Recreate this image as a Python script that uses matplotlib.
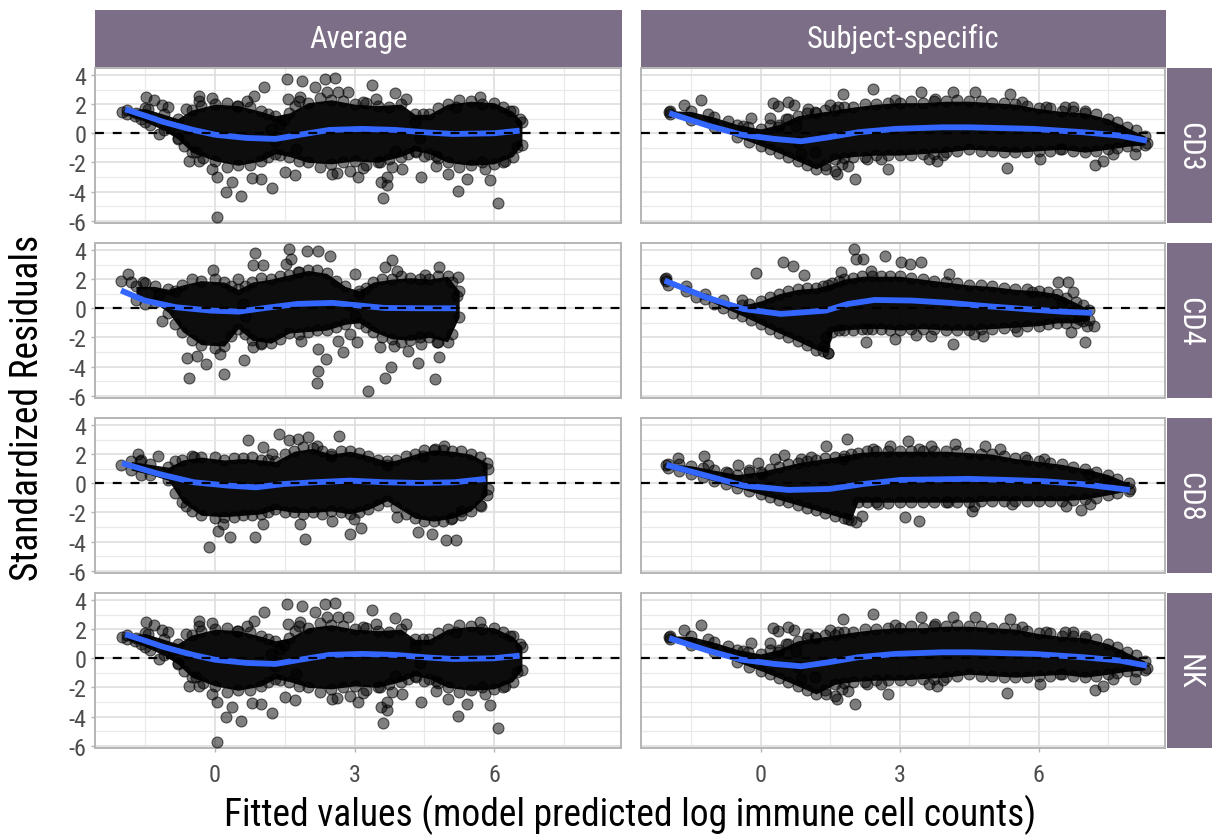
import numpy as np
import matplotlib.pyplot as plt

plt.rcParams['font.family'] = ['Roboto Condensed', 'Liberation Sans Narrow', 'DejaVu Sans']
plt.rcParams['axes.unicode_minus'] = False

# ---------------- data ----------------
columns = ['Average', 'Subject-specific']
cells = ['CD3', 'CD4', 'CD8', 'NK']

# dense core of each cloud: x, upper edge, lower edge
avg_cd3_core_x = [-1.9, -1.5, -1.1, -0.8, -0.5, 0.0, 0.5, 1.0, 1.3, 1.6, 2.0, 2.5, 3.0, 3.5, 4.0, 4.3, 4.6, 5.0, 5.5, 6.0, 6.4, 6.6]
avg_cd3_core_hi = [1.6, 1.7, 1.3, 1.0, 1.6, 2.0, 1.9, 1.5, 1.2, 1.4, 2.1, 2.3, 2.0, 1.9, 2.0, 1.3, 1.3, 2.0, 2.2, 2.1, 1.5, 0.8]
avg_cd3_core_lo = [1.3, 0.8, 0.2, -0.4, -1.3, -1.9, -2.2, -1.9, -1.4, -1.6, -2.0, -2.1, -1.9, -2.0, -1.6, -1.2, -1.4, -2.0, -2.2, -2.1, -1.6, -0.8]
avg_cd3_points = [(-1.99, 1.46), (-1.73, 1.2), (-1.48, 2.47), (-1.31, 2.31), (-1.45, 1.67), (-1.13, 1.95),
                  (-1.02, 1.8), (-1.2, -0.05), (-0.34, 2.58), (-0.34, 2.24), (-0.63, 1.67), (-0.66, -0.85),
                  (-0.56, -1.88), (-0.41, -1.31), (-0.34, -1.88), (-0.06, 2.43), (-0.06, -2.45), (0.05, -3.0),
                  (0.23, -4.0), (0.36, -3.33), (0.55, -4.29), (0.05, -5.77), (0.69, 2.24), (0.84, 2.54),
                  (1.06, 3.16), (0.47, 1.87), (0.98, -3.14), (1.23, -3.78), (1.55, 3.73), (1.87, 3.57),
                  (1.58, 2.36), (1.83, 2.47), (1.72, 1.9), (2.16, 3.16), (2.37, 3.73), (2.58, 3.8),
                  (2.41, 2.82), (2.65, 2.82), (2.87, 2.82), (3.37, 3.32), (3.19, 2.13), (3.47, 2.36),
                  (1.51, -2.64), (1.72, -2.87), (2.51, -2.8), (2.91, -2.57), (3.08, -3.02), (3.19, -2.4),
                  (3.58, -3.37), (3.69, -3.02), (3.62, -4.47), (3.55, -2.0), (3.8, -2.34), (4.11, 2.36),
                  (4.47, 1.33), (4.32, -1.26), (4.43, -3.03), (4.76, -2.22), (4.76, -1.54), (4.5, -1.54),
                  (4.14, -1.42), (4.03, -2.45), (5.01, -2.8), (5.23, -3.94), (5.41, -3.14), (6.09, -4.79),
                  (5.91, -3.21), (6.24, -1.93), (5.8, -2.45), (6.49, -0.96), (6.56, 0.99), (5.7, 2.48),
                  (5.19, 1.79), (6.35, 1.56), (3.86, 2.73), (3.87, -1.2), (1.75, -1.09), (2.63, -2.71),
                  (1.39, 0.65), (1.48, 0.88), (0.79, -3.1), (3.7, -3.52), (1.2, 0.3), (1.3, -0.5),
                  (1.4, -1.5), (4.3, 0.8), (4.4, -0.3), (-0.9, 0.6), (-0.8, -0.3), (-1.6, 1.0),
                  (-1.4, 0.6), (-1.7, 1.4)]
avg_cd3_edge = [(-0.3, 1.9), (0.25, 2.1), (0.75, 1.8), (1.15, 1.3), (1.8, 2.2), (2.25, 2.4), (2.75, 2.2),
                (3.25, 2.1), (3.75, 1.8), (4.8, 1.7), (5.25, 2.3), (5.75, 2.0), (6.2, 1.8),
                (-0.25, -1.7), (0.25, -2.3), (0.75, -2.2), (1.15, -1.6), (1.8, -1.9), (2.25, -2.3),
                (2.75, -2.0), (3.25, -2.2), (3.75, -1.8), (4.8, -1.7), (5.25, -2.3), (5.75, -2.0), (6.2, -2.0)]
avg_cd3_fit_x = [-1.93, -1.5, -1.09, -0.47, 0.0, 0.68, 1.3, 1.92, 2.46, 3.16, 3.87, 4.58, 5.12, 6.0, 6.55]
avg_cd3_fit_y = [1.65, 1.2, 0.76, 0.23, -0.1, -0.32, -0.39, -0.05, 0.23, 0.3, 0.23, 0.05, -0.05, 0.0, 0.18]

avg_cd4_core_x = [-1.7, -1.3, -1.0, -0.7, -0.3, 0.2, 0.5, 0.8, 1.2, 1.6, 2.0, 2.4, 2.8, 3.1, 3.4, 3.8, 4.2, 4.6, 5.0, 5.25]
avg_cd4_core_hi = [1.5, 1.5, 1.3, 1.6, 1.9, 1.8, 1.3, 1.8, 2.0, 2.3, 2.6, 2.4, 1.5, 1.2, 1.8, 2.0, 2.1, 2.0, 2.2, 1.2]
avg_cd4_core_lo = [0.6, 0.4, -0.3, -1.6, -2.5, -2.6, -1.4, -2.2, -2.4, -1.7, -1.6, -1.5, -1.1, -1.0, -1.6, -2.1, -2.2, -2.0, -2.3, -0.6]
avg_cd4_points = [(-2.03, 1.9), (-1.87, 2.36), (-1.81, 1.79), (-1.55, 1.83), (-1.14, -0.85), (-0.61, -3.44),
                  (-0.56, -4.79), (-0.39, -3.26), (-0.2, -3.83), (-0.05, 2.66), (0.1, -3.14), (0.19, -4.52),
                  (0.49, 2.02), (0.62, -3.53), (0.87, 3.81), (0.81, 2.98), (1.03, 2.94), (0.81, -2.68),
                  (0.99, -2.45), (1.52, 3.05), (1.59, 4.04), (1.63, 3.39), (1.97, 3.9), (2.21, 3.9),
                  (2.48, 3.62), (1.78, 2.48), (1.85, -2.22), (2.21, -2.8), (2.39, -3.49), (2.21, -4.33),
                  (2.19, -5.14), (2.64, -2.22), (2.75, -3.03), (2.9, -1.77), (3.01, 2.36), (3.05, -2.34),
                  (3.29, -5.71), (3.54, -2.68), (3.65, 2.82), (3.8, 3.28), (3.91, 2.59), (3.78, -4.06),
                  (3.66, -4.79), (3.84, -2.57), (4.16, -2.91), (4.36, -3.76), (4.51, 2.25), (4.73, -4.86),
                  (4.81, -3.37), (4.81, 2.82), (5.22, 2.13), (5.21, 0.87), (4.77, -2.34), (4.44, -2.45),
                  (0.6, 0.3), (0.65, -0.5), (2.9, 0.2), (3.0, -0.5), (3.1, 1.0), (-1.2, 0.9)]
avg_cd4_edge = [(-1.5, 1.7), (-0.85, 1.2), (-0.5, 2.0), (0.0, 2.0), (0.35, 1.5), (0.65, 1.5), (1.0, 2.1),
                (1.4, 2.2), (1.8, 2.5), (2.2, 2.6), (2.6, 1.9), (3.25, 1.4), (3.6, 2.0), (4.0, 2.2),
                (4.4, 2.0), (4.8, 2.2), (5.1, 1.8),
                (-1.5, 0.3), (-0.85, -1.1), (-0.5, -2.2), (0.0, -2.7), (0.35, -1.9), (0.65, -1.8),
                (1.0, -2.4), (1.4, -2.1), (1.8, -1.8), (2.2, -1.5), (2.6, -1.3), (3.25, -1.3),
                (3.6, -2.0), (4.0, -2.3), (4.4, -2.0), (4.8, -2.3), (5.1, -1.8)]
avg_cd4_fit_x = [-2.02, -1.51, -0.84, -0.09, 0.51, 1.03, 1.78, 2.53, 3.13, 3.65, 4.4, 5.18]
avg_cd4_fit_y = [1.22, 0.53, 0.07, -0.16, -0.23, 0.0, 0.3, 0.37, 0.18, 0.02, 0.0, 0.0]

avg_cd8_core_x = [-1.8, -1.4, -1.0, -0.7, -0.3, 0.2, 0.6, 1.0, 1.3, 1.7, 2.1, 2.5, 2.9, 3.3, 3.7, 3.9, 4.3, 4.7, 5.1, 5.5, 5.85]
avg_cd8_core_hi = [1.5, 1.3, 1.1, 1.6, 1.8, 1.6, 1.7, 1.6, 1.5, 2.2, 2.4, 2.0, 2.2, 1.9, 1.5, 1.6, 2.0, 2.3, 2.2, 2.0, 1.4]
avg_cd8_core_lo = [0.9, 0.6, 0.2, -1.3, -2.2, -2.3, -2.2, -2.1, -1.8, -2.0, -2.0, -1.9, -2.1, -1.8, -1.2, -1.6, -2.4, -2.6, -2.4, -1.9, -0.8]
avg_cd8_points = [(-2.02, 1.28), (-1.66, 2.02), (-1.62, 1.56), (-1.23, 1.9), (-0.63, -1.54), (-0.46, 1.79),
                  (-0.13, -4.36), (0.06, -3.26), (0.17, -2.8), (0.32, -3.67), (0.7, 3.0), (0.85, -3.67),
                  (1.03, 2.48), (1.03, -2.8), (1.22, 2.02), (1.37, 3.39), (1.59, 2.94), (1.78, 3.05),
                  (2.0, 3.17), (1.82, -2.8), (1.93, -3.83), (2.19, 2.59), (2.49, 1.9), (2.51, -2.57),
                  (2.66, 3.26), (2.9, -3.49), (3.13, -3.07), (2.98, -2.45), (3.69, 1.22), (3.91, -2.34),
                  (4.36, -3.37), (4.66, -3.49), (4.96, -3.88), (5.18, -3.88), (4.47, 1.9), (4.73, 2.36),
                  (4.92, 2.59), (5.71, -1.54), (5.86, -0.39), (5.86, 0.99), (5.3, -1.88), (5.07, -2.45)]
avg_cd8_edge = [(-1.6, 1.6), (-0.85, 1.5), (-0.5, 1.9), (0.0, 1.8), (0.4, 1.7), (0.8, 1.8), (1.15, 1.6),
                (1.5, 2.0), (1.9, 2.5), (2.3, 2.2), (2.7, 2.2), (3.1, 2.1), (3.5, 1.6), (4.1, 1.9),
                (4.5, 2.3), (4.9, 2.3), (5.3, 2.2), (5.7, 1.8),
                (-1.6, 0.6), (-0.85, -0.7), (-0.5, -1.9), (0.0, -2.4), (0.4, -2.3), (0.8, -2.2),
                (1.15, -2.0), (1.5, -2.0), (1.9, -2.1), (2.3, -2.1), (2.7, -2.0), (3.1, -2.0),
                (3.5, -1.5), (4.1, -2.1), (4.5, -2.6), (4.9, -2.6), (5.3, -2.2), (5.7, -1.5)]
avg_cd8_fit_x = [-2.0, -1.21, -0.46, 0.28, 0.88, 1.48, 2.15, 2.9, 3.65, 4.4, 5.15, 5.82]
avg_cd8_fit_y = [1.38, 0.64, 0.07, -0.16, -0.28, -0.05, 0.07, 0.18, 0.07, 0.02, 0.07, 0.3]

sub_cd3_core_x = [-1.95, -1.5, -1.0, -0.5, 0.0, 0.4, 0.8, 1.2, 1.6, 2.0, 2.5, 3.0, 3.5, 4.0, 4.5, 5.0, 5.5, 6.0, 6.5, 7.0, 7.5, 7.9, 8.3]
sub_cd3_core_hi = [1.55, 1.5, 1.1, 0.6, 0.3, 0.6, 1.2, 1.4, 1.6, 1.8, 2.0, 2.1, 2.1, 2.2, 2.2, 2.1, 2.0, 1.7, 1.5, 1.4, 1.0, 0.4, -0.2]
sub_cd3_core_lo = [1.3, 0.9, 0.4, -0.25, -0.85, -1.35, -1.9, -2.45, -1.8, -1.6, -1.5, -1.5, -1.4, -1.3, -1.1, -1.2, -1.3, -1.2, -1.1, -1.3, -1.1, -0.9, -0.8]
sub_cd3_points = [(-1.97, 1.45), (-1.65, 1.91), (-1.29, 2.3), (-1.14, 1.33), (-0.71, 0.83), (-0.38, 0.53),
                  (-0.2, 1.06), (-0.27, 0.41), (0.2, 1.06), (0.27, 2.07), (0.38, 1.84), (0.59, 2.14),
                  (0.72, 1.91), (0.56, 0.99), (0.38, 0.41), (0.77, 0.53), (1.03, 1.68), (1.17, 1.45),
                  (1.5, 1.91), (1.79, 2.67), (1.68, 1.79), (1.75, -2.11), (1.89, -2.23), (2.04, -3.15),
                  (2.29, -1.77), (2.6, -1.77), (2.76, -2.46), (2.42, 3.06), (3.47, 2.83), (2.91, 2.25),
                  (1.61, -2.57), (1.64, -2.8), (1.42, -2.46), (0.81, -0.62), (0.88, -1.43), (1.17, -1.31),
                  (3.63, -1.77), (3.81, -1.89), (3.77, 2.37), (4.15, 2.83), (4.62, 2.83), (5.38, 2.67),
                  (5.65, 2.14), (3.94, -1.47), (5.31, -2.39), (6.04, -1.77), (6.46, -1.08), (6.75, 1.79),
                  (7.0, 1.56), (7.22, -2.16), (7.4, -1.89), (7.61, -1.43), (8.08, -1.43), (8.34, -0.69),
                  (7.76, 0.23), (6.57, 1.79), (6.17, 1.79)]
sub_cd3_edge = [(0.2, 0.6), (0.6, 1.0), (1.0, 1.4), (1.4, 1.6), (1.8, 1.8), (2.25, 2.0), (2.75, 2.1),
                (3.25, 2.2), (3.75, 2.2), (4.25, 2.3), (4.75, 2.2), (5.25, 2.1), (5.75, 1.9), (6.25, 1.7),
                (6.75, 1.5), (7.25, 1.3), (7.7, 0.8), (8.1, 0.2),
                (-0.25, -0.6), (0.2, -1.1), (0.6, -1.6), (1.0, -2.2), (1.4, -2.2), (1.8, -1.7),
                (2.25, -1.6), (2.75, -1.5), (3.25, -1.5), (3.75, -1.4), (4.25, -1.2), (4.75, -1.2),
                (5.25, -1.3), (5.75, -1.3), (6.25, -1.2), (6.75, -1.2), (7.25, -1.2), (7.7, -1.0), (8.1, -0.9)]
sub_cd3_fit_x = [-1.97, -1.14, -0.42, 0.3, 0.88, 1.46, 2.11, 2.91, 3.92, 4.5, 5.88, 6.97, 7.76, 8.34]
sub_cd3_fit_y = [1.38, 0.53, -0.09, -0.39, -0.55, -0.28, 0.07, 0.3, 0.41, 0.41, 0.3, 0.07, -0.16, -0.51]

sub_cd4_core_x = [-2.05, -1.6, -1.2, -0.8, -0.4, 0.0, 0.4, 0.8, 1.2, 1.45, 1.55, 1.8, 2.2, 2.6, 3.0, 3.5, 4.0, 4.5, 5.0, 5.5, 6.0, 6.4, 6.8, 7.1]
sub_cd4_core_hi = [2.05, 1.5, 1.0, 0.55, 0.2, 0.5, 1.0, 1.3, 1.4, 1.6, 1.7, 2.0, 2.2, 2.2, 2.2, 2.0, 1.8, 1.6, 1.5, 1.3, 1.2, 1.0, 0.4, -0.1]
sub_cd4_core_lo = [1.85, 1.2, 0.65, 0.05, -0.5, -1.1, -1.7, -2.25, -2.85, -3.05, -1.6, -1.5, -1.4, -1.4, -1.5, -1.4, -1.5, -1.5, -1.4, -1.3, -1.2, -1.0, -1.0, -0.8]
sub_cd4_points = [(-2.07, 2.02), (-0.09, 2.43), (0.48, 3.17), (0.7, 2.89), (-0.41, 0.6), (-0.25, 0.3),
                  (2.02, 4.04), (2.06, 3.39), (2.22, 3.39), (2.68, 3.62), (2.38, 2.59), (3.03, 3.17),
                  (3.23, 3.05), (3.47, 3.21), (1.73, 2.48), (0.94, 2.25), (4.06, 2.36), (6.43, 1.83),
                  (6.63, 1.79), (6.74, 1.1), (6.51, 0.46), (6.87, -0.73), (7.04, -1.19), (7.2, -1.19),
                  (7.01, -2.34), (6.71, -1.61), (4.16, -2.45), (4.61, -1.77), (4.8, -1.88), (2.91, -2.11),
                  (2.28, -2.29), (2.3, -1.42), (3.35, -1.83), (3.68, -1.88), (1.45, -3.07), (1.37, -2.57),
                  (1.41, -2.0), (5.54, -1.54), (5.86, 1.1)]
sub_cd4_edge = [(0.2, 0.8), (0.6, 1.2), (1.0, 1.4), (1.35, 1.5), (1.7, 1.9), (2.0, 2.1), (2.4, 2.2),
                (2.8, 2.2), (3.25, 2.1), (3.75, 1.9), (4.25, 1.7), (4.75, 1.6), (5.25, 1.4), (5.75, 1.3),
                (6.2, 1.1), (6.6, 0.7), (6.95, 0.2),
                (-2.0, 1.6), (-1.4, 0.8), (-1.0, 0.3), (-0.6, -0.3), (-0.2, -0.8), (0.2, -1.4), (0.6, -2.0),
                (1.0, -2.55), (1.35, -2.9), (1.7, -1.5), (2.0, -1.5), (2.4, -1.4), (2.8, -1.5),
                (3.25, -1.45), (3.75, -1.45), (4.25, -1.5), (4.75, -1.45), (5.25, -1.35), (5.75, -1.25),
                (6.2, -1.1), (6.6, -1.0), (6.95, -0.9)]
sub_cd4_fit_x = [-2.07, -1.18, -0.37, 0.44, 1.41, 1.89, 2.46, 3.27, 4.08, 4.89, 5.7, 6.51, 7.16]
sub_cd4_fit_y = [1.9, 0.76, -0.05, -0.39, -0.16, 0.3, 0.57, 0.53, 0.37, 0.14, -0.05, -0.23, -0.32]

sub_cd8_core_x = [-2.0, -1.5, -1.0, -0.5, 0.0, 0.4, 0.8, 1.2, 1.6, 1.95, 2.1, 2.5, 3.0, 3.5, 4.0, 4.5, 5.0, 5.5, 6.0, 6.5, 7.0, 7.5, 7.95]
sub_cd8_core_hi = [1.35, 1.2, 0.9, 0.6, 0.8, 1.1, 1.4, 1.6, 1.8, 2.0, 2.1, 2.2, 2.2, 2.2, 2.2, 2.1, 2.0, 1.7, 1.5, 1.3, 1.0, 0.6, 0.0]
sub_cd8_core_lo = [1.07, 0.62, 0.16, -0.3, -0.76, -1.12, -1.49, -1.86, -2.22, -2.55, -1.3, -1.3, -1.3, -1.3, -1.3, -1.3, -1.2, -1.2, -1.2, -1.2, -1.1, -0.8, -0.5]
sub_cd8_points = [(-2.03, 1.26), (-1.79, 1.74), (-1.22, 1.9), (-1.14, 1.22), (-0.71, 0.71), (-0.49, 1.22),
                  (-0.25, 0.92), (-0.05, 1.38), (0.32, 1.67), (0.5, 1.97), (0.03, 0.64), (0.88, 1.67),
                  (1.08, 1.79), (1.41, 2.59), (1.87, 3.05), (1.77, 1.67), (2.42, 2.36), (2.79, 2.59),
                  (3.19, 2.89), (3.43, 2.36), (3.68, 2.59), (4.2, 2.71), (4.85, 2.59), (5.17, 2.36),
                  (2.18, -2.22), (2.06, -2.68), (1.89, -2.45), (3.11, -2.34), (3.42, -2.61), (4.57, -1.88),
                  (4.61, -1.54), (5.42, -1.42), (6.91, -1.83), (6.59, -1.54), (7.12, -1.42), (7.97, -0.39),
                  (7.44, 0.18), (7.08, 0.64), (6.11, 1.67), (5.7, 1.79), (2.54, -1.42), (4.04, -1.31)]
sub_cd8_edge = [(-1.75, 1.3), (-1.25, 1.05), (-0.75, 0.75), (-0.25, 0.8), (0.2, 1.0), (0.6, 1.3), (1.0, 1.5),
                (1.4, 1.7), (1.8, 1.9), (2.3, 2.2), (2.75, 2.2), (3.25, 2.2), (3.75, 2.2), (4.25, 2.2),
                (4.75, 2.0), (5.25, 1.9), (5.75, 1.6), (6.25, 1.4), (6.75, 1.1), (7.25, 0.8), (7.7, 0.3),
                (-1.75, 0.85), (-1.25, 0.4), (-0.75, -0.05), (-0.25, -0.55), (0.2, -0.95), (0.6, -1.3),
                (1.0, -1.7), (1.4, -2.05), (1.8, -2.4), (2.3, -1.3), (2.75, -1.35), (3.25, -1.3),
                (3.75, -1.3), (4.25, -1.3), (4.75, -1.25), (5.25, -1.2), (5.75, -1.2), (6.25, -1.2),
                (6.75, -1.15), (7.25, -1.0), (7.7, -0.7)]
sub_cd8_fit_x = [-2.03, -1.18, -0.37, 0.6, 1.49, 2.22, 3.03, 4.49, 5.3, 6.11, 6.91, 7.97]
sub_cd8_fit_y = [1.26, 0.53, -0.16, -0.46, -0.39, -0.05, 0.23, 0.3, 0.23, 0.14, -0.05, -0.46]

# the NK panels read the same as the CD3 panels
avg_nk_core_x, avg_nk_core_hi, avg_nk_core_lo = list(avg_cd3_core_x), list(avg_cd3_core_hi), list(avg_cd3_core_lo)
avg_nk_points, avg_nk_edge = list(avg_cd3_points), list(avg_cd3_edge)
avg_nk_fit_x, avg_nk_fit_y = list(avg_cd3_fit_x), list(avg_cd3_fit_y)
sub_nk_core_x, sub_nk_core_hi, sub_nk_core_lo = list(sub_cd3_core_x), list(sub_cd3_core_hi), list(sub_cd3_core_lo)
sub_nk_points, sub_nk_edge = list(sub_cd3_points), list(sub_cd3_edge)
sub_nk_fit_x, sub_nk_fit_y = list(sub_cd3_fit_x), list(sub_cd3_fit_y)

panels = {
    ('Average', 'CD3'): (avg_cd3_core_x, avg_cd3_core_hi, avg_cd3_core_lo, avg_cd3_points + avg_cd3_edge, avg_cd3_fit_x, avg_cd3_fit_y),
    ('Average', 'CD4'): (avg_cd4_core_x, avg_cd4_core_hi, avg_cd4_core_lo, avg_cd4_points + avg_cd4_edge, avg_cd4_fit_x, avg_cd4_fit_y),
    ('Average', 'CD8'): (avg_cd8_core_x, avg_cd8_core_hi, avg_cd8_core_lo, avg_cd8_points + avg_cd8_edge, avg_cd8_fit_x, avg_cd8_fit_y),
    ('Average', 'NK'): (avg_nk_core_x, avg_nk_core_hi, avg_nk_core_lo, avg_nk_points + avg_nk_edge, avg_nk_fit_x, avg_nk_fit_y),
    ('Subject-specific', 'CD3'): (sub_cd3_core_x, sub_cd3_core_hi, sub_cd3_core_lo, sub_cd3_points + sub_cd3_edge, sub_cd3_fit_x, sub_cd3_fit_y),
    ('Subject-specific', 'CD4'): (sub_cd4_core_x, sub_cd4_core_hi, sub_cd4_core_lo, sub_cd4_points + sub_cd4_edge, sub_cd4_fit_x, sub_cd4_fit_y),
    ('Subject-specific', 'CD8'): (sub_cd8_core_x, sub_cd8_core_hi, sub_cd8_core_lo, sub_cd8_points + sub_cd8_edge, sub_cd8_fit_x, sub_cd8_fit_y),
    ('Subject-specific', 'NK'): (sub_nk_core_x, sub_nk_core_hi, sub_nk_core_lo, sub_nk_points + sub_nk_edge, sub_nk_fit_x, sub_nk_fit_y),
}

# ---------------- layout (pixels) ----------------
W, H = 1216, 837
fig = plt.figure(figsize=(W / 100, H / 100), dpi=100)


def box(x0, y0, w, h):
    return [x0 / W, 1 - (y0 + h) / H, w / W, h / H]


col_x = [95, 641]
col_w = [526, 524]
row_y = [69, 244, 419, 594]
row_h = 155
strip_col = '#7d6e87'
frame_col = '#b5b5b5'
pt_face = (0, 0, 0, 0.5)
pt_edge = (0, 0, 0, 0.6)

for c, col in enumerate(columns):
    for r, cell in enumerate(cells):
        ax = fig.add_axes(box(col_x[c], row_y[r], col_w[c], row_h))
        cx, hi, lo, pts, fx, fy = panels[(col, cell)]
        pts = np.array(pts)

        ax.fill_between(cx, lo, hi, color='black', alpha=0.95, lw=0, zorder=2)
        ax.scatter(np.r_[cx, cx], np.r_[hi, lo], s=62, facecolor=pt_face, edgecolor=pt_edge,
                   lw=0.8, zorder=3)
        ax.scatter(pts[:, 0], pts[:, 1], s=62, facecolor=pt_face, edgecolor=pt_edge, lw=0.8, zorder=3)
        ax.plot(fx, fy, color='#3366ff', lw=4.2, solid_capstyle='butt', solid_joinstyle='round', zorder=4)
        ax.axhline(0, color='black', lw=1.6, ls=(0, (4, 4)), zorder=5)

        ax.set_xlim(-2.58, 8.73)
        ax.set_ylim(-6.16, 4.48)
        ax.set_xticks([0, 3, 6])
        ax.set_xticks([-1.5, 1.5, 4.5, 7.5], minor=True)
        ax.set_yticks([-6, -4, -2, 0, 2, 4])
        ax.set_yticks([-5, -3, -1, 1, 3], minor=True)
        ax.grid(which='major', color='#dedede', lw=1.2)
        ax.grid(which='minor', color='#e9e9e9', lw=0.9)
        ax.set_axisbelow(True)
        for s in ax.spines.values():
            s.set_color(frame_col)
            s.set_linewidth(1.4)
        ax.tick_params(which='minor', length=0)
        ax.tick_params(which='major', length=3, width=1, color=frame_col, labelsize=17.5,
                       labelcolor='#4d4d4d', pad=3)
        ax.tick_params(axis='x', pad=8)
        if c != 0:
            ax.tick_params(axis='y', left=False, labelleft=False)
        if r != len(cells) - 1:
            ax.tick_params(axis='x', bottom=False, labelbottom=False)

        if c == 1:
            sax = fig.add_axes(box(1167, row_y[r], 45, row_h))
            sax.set_facecolor(strip_col)
            sax.set_xticks([])
            sax.set_yticks([])
            for s in sax.spines.values():
                s.set_visible(False)
            sax.text(0.5, 0.5, cell, rotation=-90, ha='center', va='center', color='white',
                     fontsize=22, transform=sax.transAxes)

    tax = fig.add_axes(box(col_x[c], 11, col_w[c] + 1, 57))
    tax.set_facecolor(strip_col)
    tax.set_xticks([])
    tax.set_yticks([])
    for s in tax.spines.values():
        s.set_visible(False)
    tax.text(0.5, 0.5, col, ha='center', va='center', color='white', fontsize=22,
             transform=tax.transAxes)

fig.text(630 / W, 1 - 815 / H, 'Fitted values (model predicted log immune cell counts)',
         ha='center', va='center', fontsize=27)
fig.text(28 / W, 1 - 408 / H, 'Standardized Residuals', rotation=90,
         ha='center', va='center', fontsize=27)

fig.savefig('out.png', dpi=100)
